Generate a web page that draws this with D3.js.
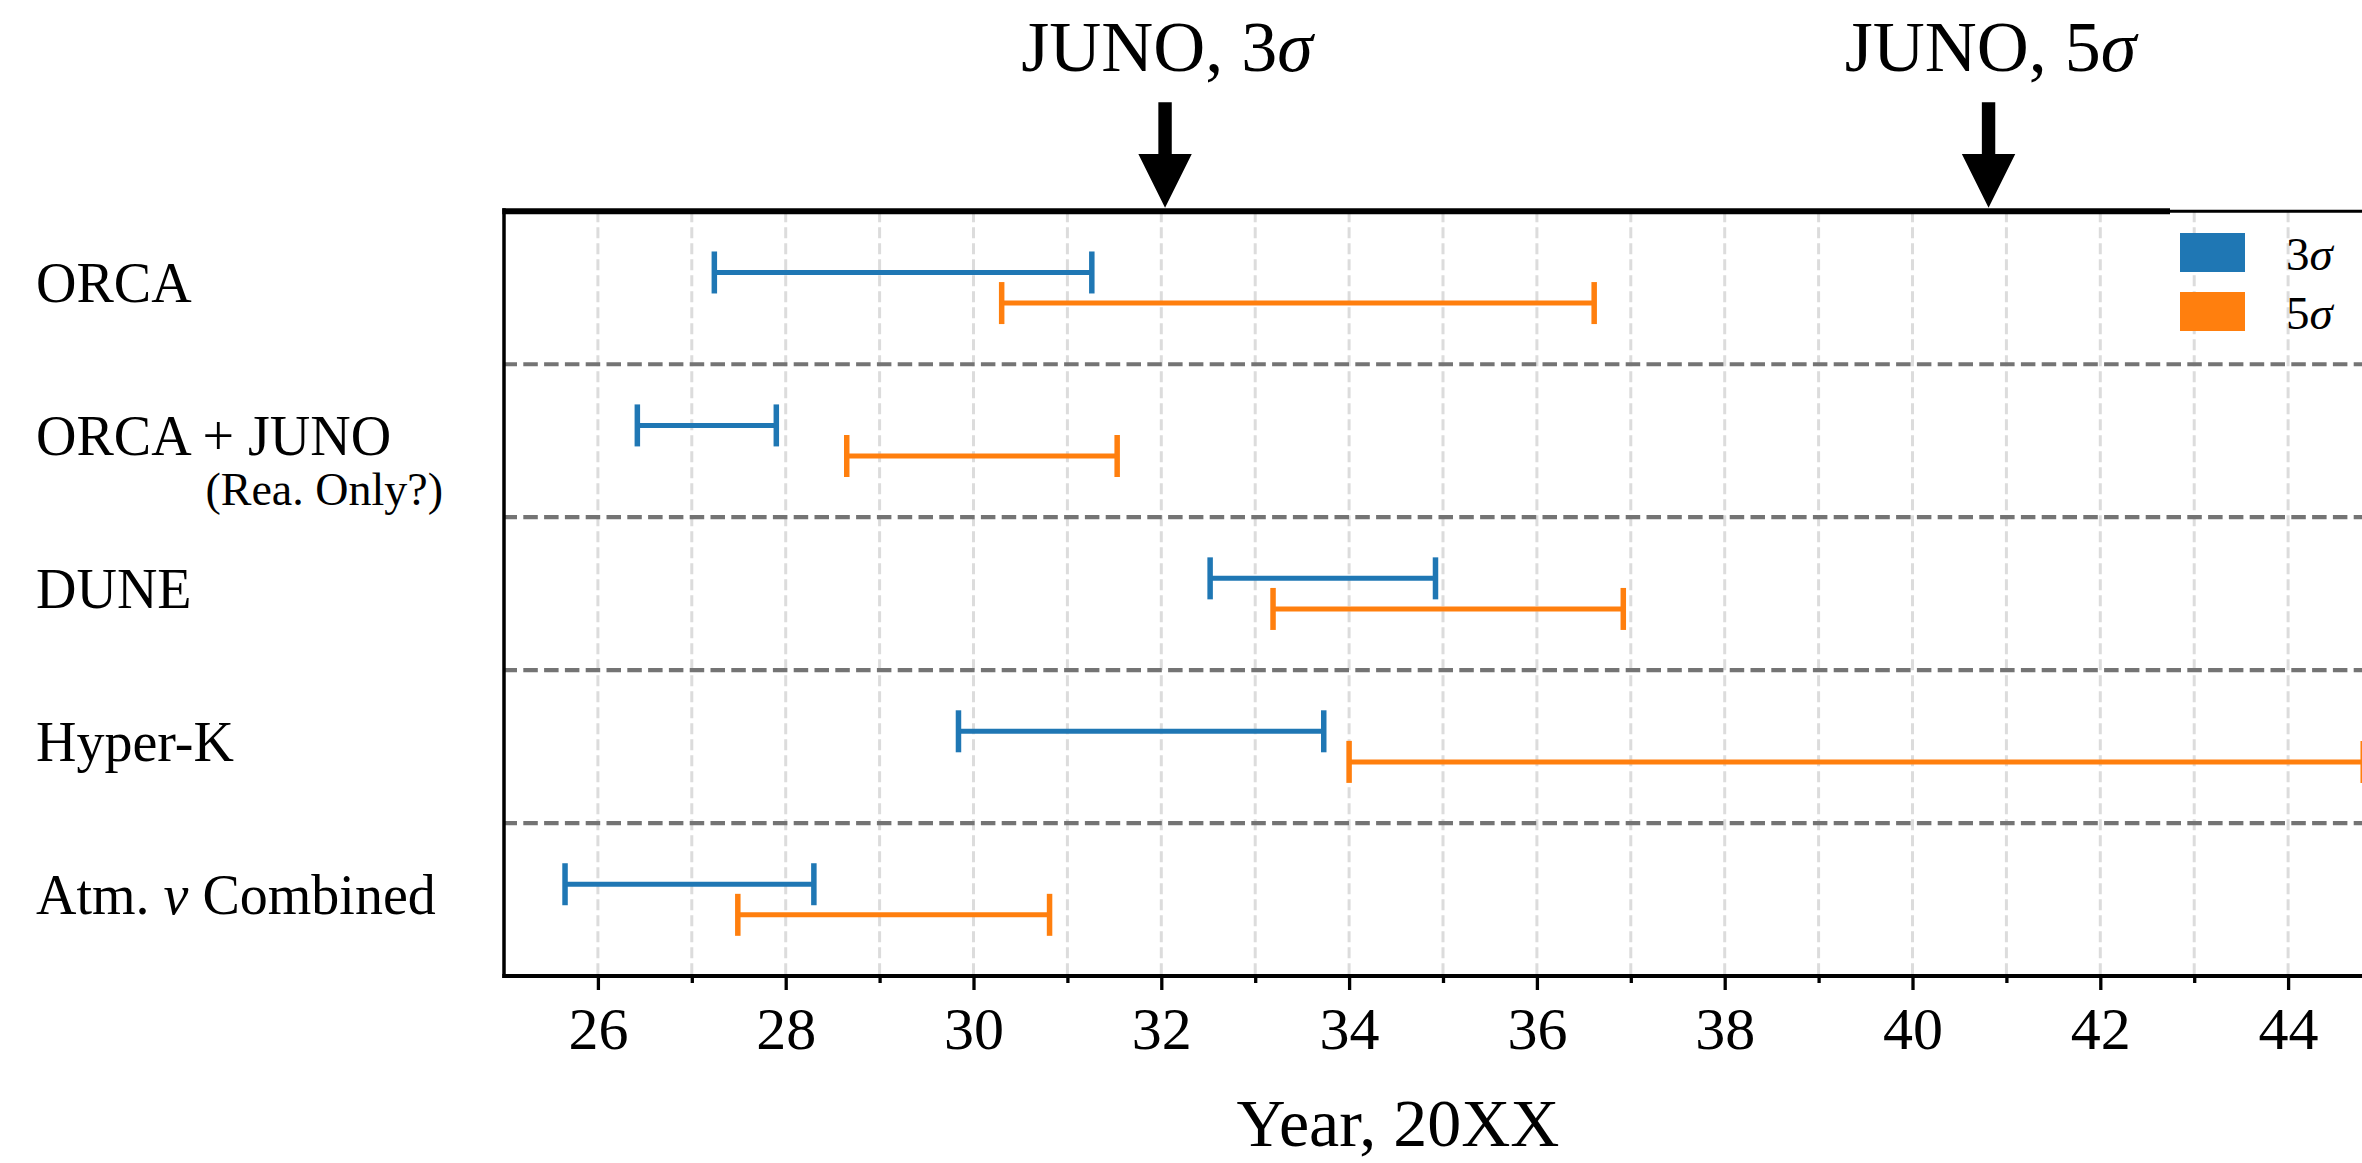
<!DOCTYPE html>
<html>
<head>
<meta charset="utf-8">
<script src="https://cdn.jsdelivr.net/npm/d3@7"></script>
<style>
  html, body { margin: 0; padding: 0; background: #fff; }
  svg { display: block; }
  text { font-family: "Liberation Serif", "Times New Roman", serif; fill: #000; }
</style>
</head>
<body>
<svg id="chart" width="2362" height="1163"></svg>
<script>
// ---------- data ----------
const categories = ["ORCA", "ORCA + JUNO", "DUNE", "Hyper-K", "Atm. ν Combined"];
const subLabels  = ["", "(Rea. Only?)", "", "", ""];
const start3sigma = [27.24, 26.42, 32.52, 29.84, 25.65];
const end3sigma   = [31.26, 27.90, 34.92, 33.73, 28.30];
const start5sigma = [30.30, 28.65, 33.19, 34.00, 27.49];
const end5sigma   = [36.61, 31.53, 36.92, 44.80, 30.81];
const junoYears   = [32.04, 40.81];
const junoLabels  = ["3", "5"];
const majorTicks  = [26, 28, 30, 32, 34, 36, 38, 40, 42, 44];
const minorTicks  = [27, 29, 31, 33, 35, 37, 39, 41, 43, 45];
const gridYears   = [26, 27, 28, 29, 30, 31, 32, 33, 34, 35, 36, 37, 38, 39, 40, 41, 42, 43, 44, 45];
const seriesNames = ["3", "5"];
const seriesColors = ["#1f77b4", "#ff7f0e"];

(function () {
// ---------- layout ----------
const svg = d3.select("#chart");
const pLeft = 504, pTop = 211.3, pBottom = 976;
const x = d3.scaleLinear().domain([25, 45]).range([pLeft, pLeft + 20 * 93.9]);
const y = d3.scaleLinear().domain([-0.5, categories.length - 0.5]).range([pTop, pBottom]);
const rowOff = 0.1;

// vertical dashed grid
svg.append("g").selectAll("line").data(gridYears).join("line")
  .attr("x1", d => x(d)).attr("x2", d => x(d))
  .attr("y1", pTop).attr("y2", pBottom)
  .attr("stroke", "#dcdcdc").attr("stroke-width", 3)
  .attr("stroke-dasharray", "11,5");

// horizontal separators
const seps = d3.range(categories.length - 1).map(i => i + 0.5);
svg.append("g").selectAll("line").data(seps).join("line")
  .attr("x1", pLeft).attr("x2", 2362)
  .attr("y1", d => y(d)).attr("y2", d => y(d))
  .attr("stroke", "#747474").attr("stroke-width", 4.2)
  .attr("stroke-dasharray", "14.5,6.3")
  .attr("stroke-dashoffset", 1.5);

// error-bar style intervals
const series = [
  { starts: start3sigma, ends: end3sigma, off: -rowOff, color: seriesColors[0] },
  { starts: start5sigma, ends: end5sigma, off: rowOff, color: seriesColors[1] }
];
const capH = 21;
series.forEach(s => {
  const g = svg.append("g");
  categories.forEach((c, i) => {
    const yy = y(i + s.off);
    g.append("line")
      .attr("x1", x(s.starts[i])).attr("x2", x(s.ends[i]))
      .attr("y1", yy).attr("y2", yy)
      .attr("stroke", s.color).attr("stroke-width", 5);
    [s.starts[i], s.ends[i]].forEach(v => {
      g.append("line")
        .attr("x1", x(v)).attr("x2", x(v))
        .attr("y1", yy - capH).attr("y2", yy + capH)
        .attr("stroke", s.color).attr("stroke-width", 5.5);
    });
  });
});

// axes spines
svg.append("line").attr("x1", pLeft).attr("x2", pLeft).attr("y1", pTop - 3).attr("y2", pBottom + 2)
  .attr("stroke", "#000").attr("stroke-width", 3.5);
svg.append("line").attr("x1", pLeft - 1.7).attr("x2", 2170).attr("y1", pTop).attr("y2", pTop)
  .attr("stroke", "#000").attr("stroke-width", 6);
svg.append("line").attr("x1", 2170).attr("x2", 2362).attr("y1", pTop).attr("y2", pTop)
  .attr("stroke", "#000").attr("stroke-width", 3);

// bottom axis: major + minor ticks
const axMajor = d3.axisBottom(x).tickValues(majorTicks).tickSize(14).tickSizeOuter(0).tickFormat(d3.format("d"));
const axMinor = d3.axisBottom(x).tickValues(minorTicks).tickSize(7).tickSizeOuter(0).tickFormat("");
const gMinor = svg.append("g").attr("transform", `translate(0,${pBottom})`).call(axMinor);
const gMajor = svg.append("g").attr("transform", `translate(0,${pBottom})`).call(axMajor);
[gMinor, gMajor].forEach(g => {
  g.select(".domain").remove();
  g.selectAll(".tick line").attr("stroke", "#000").attr("stroke-width", 3.3);
});
gMajor.selectAll(".tick text")
  .attr("y", 73).attr("dy", null)
  .style("font-family", "'Liberation Serif', serif")
  .style("font-size", "60px").attr("fill", "#000");
svg.append("line").attr("x1", pLeft - 1.7).attr("x2", 2362).attr("y1", pBottom).attr("y2", pBottom)
  .attr("stroke", "#000").attr("stroke-width", 3.8);

// x label
svg.append("text").attr("x", 1398).attr("y", 1146).attr("text-anchor", "middle")
  .style("font-size", "68px").text("Year, 20XX");

// category labels
categories.forEach((c, i) => {
  const t = svg.append("text").attr("x", 36).attr("y", y(i) + 14.3).style("font-size", "56px");
  if (c.includes("ν")) {
    const parts = c.split("ν");
    t.append("tspan").text(parts[0]);
    t.append("tspan").style("font-style", "italic").text("ν");
    t.append("tspan").text(parts[1]);
  } else {
    t.text(c);
  }
  if (subLabels[i]) {
    svg.append("text").attr("x", 443).attr("y", y(i) + 64.4).attr("text-anchor", "end")
      .style("font-size", "46px").text(subLabels[i]);
  }
});

// JUNO arrows + labels
junoYears.forEach((v, i) => {
  const cx = x(v);
  const p = d3.path();
  p.moveTo(cx - 6.7, 102.3);
  p.lineTo(cx + 6.7, 102.3);
  p.lineTo(cx + 6.7, 154);
  p.lineTo(cx + 26.7, 154);
  p.lineTo(cx, 207.7);
  p.lineTo(cx - 26.7, 154);
  p.lineTo(cx - 6.7, 154);
  p.closePath();
  svg.append("path").attr("d", p.toString()).attr("fill", "#000");
  const t = svg.append("text").attr("x", cx + 2).attr("y", 71).attr("text-anchor", "middle")
    .style("font-size", "72px");
  t.append("tspan").text("JUNO, " + junoLabels[i]);
  t.append("tspan").style("font-style", "italic").text("σ");
});

// legend
seriesNames.forEach((n, i) => {
  const ly = 233 + i * 59;
  svg.append("rect").attr("x", 2180).attr("y", ly).attr("width", 65).attr("height", 39)
    .attr("fill", seriesColors[i]);
  const t = svg.append("text").attr("x", 2286).attr("y", ly + 37).style("font-size", "47px");
  t.append("tspan").text(n);
  t.append("tspan").style("font-style", "italic").text("σ");
});
})();
</script>
</body>
</html>
